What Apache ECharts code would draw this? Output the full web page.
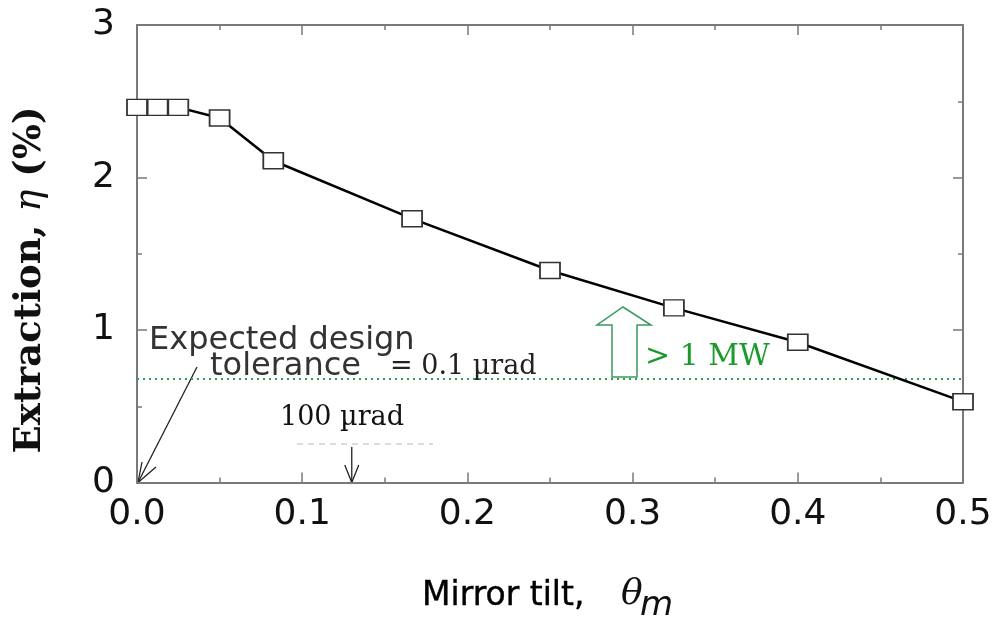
<!DOCTYPE html>
<html>
<head>
<meta charset="utf-8">
<script src="https://cdn.jsdelivr.net/npm/echarts@6/dist/echarts.min.js"></script>
<style>
html,body{margin:0;padding:0;background:#fff;}
#main{width:997px;height:619px;}
</style>
</head>
<body>
<div id="main"></div>
<script>
// Data
var tiltValues = [0, 0.0125, 0.025, 0.05, 0.0825, 0.1665, 0.25, 0.325, 0.4, 0.5];
var extractionValues = [2.46, 2.46, 2.46, 2.39, 2.11, 1.73, 1.39, 1.145, 0.92, 0.53];
var thresholdValue = 0.68;  // >1 MW level
var xTickLabels = ['0.0', '0.1', '0.2', '0.3', '0.4', '0.5'];
var yTickLabels = ['0', '1', '2', '3'];

var chart = echarts.init(document.getElementById('main'), null, {renderer: 'canvas'});

var points = tiltValues.map(function (x, i) { return [x, extractionValues[i]]; });

var axisGray = '#7a7a7a';
var sansFont = '"DejaVu Sans", sans-serif';
var serifFont = '"DejaVu Serif", serif';

var option = {
  backgroundColor: '#ffffff',
  animation: false,
  grid: {left: 137, right: 34, top: 25, bottom: 136.5, containLabel: false},
  xAxis: [{
    type: 'value', min: 0, max: 0.5, interval: 0.1, position: 'bottom',
    axisLine: {show: true, onZero: false, lineStyle: {color: axisGray, width: 2}},
    axisTick: {show: true, inside: true, length: 10, lineStyle: {color: axisGray, width: 1.5}},
    minorTick: {show: true, splitNumber: 2, length: 5, lineStyle: {color: axisGray, width: 1.5}},
    splitLine: {show: false},
    axisLabel: {
      margin: 14, color: '#111', fontFamily: sansFont, fontSize: 36,
      formatter: function (v) { var i = Math.round(v * 10); return xTickLabels[i] !== undefined ? xTickLabels[i] : ''; }
    }
  }, {
    type: 'value', min: 0, max: 0.5, interval: 0.1, position: 'top',
    axisLine: {show: true, onZero: false, lineStyle: {color: axisGray, width: 2}},
    axisTick: {show: true, inside: true, length: 10, lineStyle: {color: axisGray, width: 1.5}},
    minorTick: {show: true, splitNumber: 2, length: 5, lineStyle: {color: axisGray, width: 1.5}},
    splitLine: {show: false},
    axisLabel: {show: false}
  }],
  yAxis: [{
    type: 'value', min: 0, max: 3, interval: 1, position: 'left',
    axisLine: {show: true, onZero: false, lineStyle: {color: axisGray, width: 2}},
    axisTick: {show: true, inside: true, length: 10, lineStyle: {color: axisGray, width: 1.5}},
    minorTick: {show: true, splitNumber: 2, length: 5, lineStyle: {color: axisGray, width: 1.5}},
    splitLine: {show: false},
    axisLabel: {
      margin: 22, color: '#111', fontFamily: sansFont, fontSize: 36,
      formatter: function (v) { var i = Math.round(v); return yTickLabels[i] !== undefined ? yTickLabels[i] : ''; }
    }
  }, {
    type: 'value', min: 0, max: 3, interval: 1, position: 'right',
    axisLine: {show: true, onZero: false, lineStyle: {color: axisGray, width: 2}},
    axisTick: {show: true, inside: true, length: 10, lineStyle: {color: axisGray, width: 1.5}},
    minorTick: {show: true, splitNumber: 2, length: 5, lineStyle: {color: axisGray, width: 1.5}},
    splitLine: {show: false},
    axisLabel: {show: false}
  }],
  series: [{
    type: 'line',
    data: points,
    xAxisIndex: 0, yAxisIndex: 0,
    clip: false,
    symbol: 'rect',
    symbolSize: [20, 16],
    lineStyle: {color: '#000', width: 2.5},
    itemStyle: {color: '#ffffff', borderColor: '#333', borderWidth: 1.6},
    z: 5,
    markLine: {
      silent: true, symbol: ['none', 'none'],
      label: {show: false},
      lineStyle: {color: '#2e9e55', type: [2, 4], width: 2},
      data: [{yAxis: thresholdValue}]
    }
  }]
};
chart.setOption(option);

function px(x, y) { return chart.convertToPixel({gridIndex: 0}, [x, y]); }

var g = [];
// y-axis title (rotated)
g.push({
  type: 'text', x: 30, y: 280, rotation: Math.PI / 2,
  style: {
    text: '{b|Extraction, }{i|η}{b| (%)}',
    align: 'center', verticalAlign: 'middle',
    rich: {
      b: {fontFamily: serifFont, fontWeight: 'bold', fontSize: 37, fill: '#111'},
      i: {fontFamily: serifFont, fontStyle: 'italic', fontSize: 37, fill: '#111'}
    }
  }
});
// x-axis title
g.push({type: 'text', x: 422, y: 596, style: {text: 'Mirror tilt,', fontFamily: sansFont, fontSize: 33, fill: '#000', align: 'left', verticalAlign: 'middle', stroke: '#000', lineWidth: 0.4}});
g.push({type: 'text', x: 621, y: 595, style: {text: 'θ', fontFamily: serifFont, fontStyle: 'italic', fontSize: 36, fill: '#111', align: 'left', verticalAlign: 'middle'}});
g.push({type: 'text', x: 640, y: 606, style: {text: 'm', fontFamily: sansFont, fontStyle: 'italic', fontSize: 34, fill: '#111', align: 'left', verticalAlign: 'middle'}});

// Annotation texts
g.push({type: 'text', x: 149, y: 341, style: {text: 'Expected design', fontFamily: sansFont, fontSize: 32, fill: '#333', align: 'left', verticalAlign: 'middle'}});
g.push({type: 'text', x: 210, y: 367, style: {text: 'tolerance', fontFamily: sansFont, fontSize: 32, fill: '#333', align: 'left', verticalAlign: 'middle'}});
g.push({type: 'text', x: 390, y: 367, style: {text: '= 0.1 µrad', fontFamily: serifFont, fontSize: 27, fill: '#222', align: 'left', verticalAlign: 'middle'}});
g.push({type: 'text', x: 280, y: 418, style: {text: '100 µrad', fontFamily: serifFont, fontSize: 27, fill: '#111', align: 'left', verticalAlign: 'middle'}});
g.push({type: 'text', x: 645, y: 357, style: {text: '> 1 MW', fontFamily: serifFont, fontSize: 30, fill: '#1a9a2a', align: 'left', verticalAlign: 'middle'}});

// faint dashed residue line under "100 µrad"
g.push({type: 'line', shape: {x1: 297, y1: 444, x2: 433, y2: 444}, style: {stroke: '#d0d0d0', lineWidth: 1.5, lineDash: [6, 5]}});

// Arrow to origin
var o = px(0, 0);
var a1Start = [197, 367];
g.push({type: 'line', shape: {x1: a1Start[0], y1: a1Start[1], x2: o[0] + 1, y2: o[1]}, style: {stroke: '#222', lineWidth: 1.3}});
g.push({type: 'polyline', shape: {points: [[142, 462], [o[0] + 1, o[1]], [156, 467]]}, style: {stroke: '#222', lineWidth: 1.3, fill: null}});
// Arrow to 100 µrad position
var p100 = px(0.13, 0);
g.push({type: 'line', shape: {x1: p100[0], y1: 447, x2: p100[0], y2: p100[1]}, style: {stroke: '#222', lineWidth: 1.3}});
g.push({type: 'polyline', shape: {points: [[p100[0] - 7, 465], [p100[0], p100[1]], [p100[0] + 7, 465]]}, style: {stroke: '#222', lineWidth: 1.3, fill: null}});

// Hollow green arrow
g.push({type: 'polygon', shape: {points: [[623, 307], [651, 325], [637, 325], [637, 377], [612, 377], [612, 325], [597, 325]]},
  style: {fill: '#ffffff', stroke: '#3a9a5e', lineWidth: 1.5}, z: 3});

chart.setOption({graphic: g});
</script>
</body>
</html>
